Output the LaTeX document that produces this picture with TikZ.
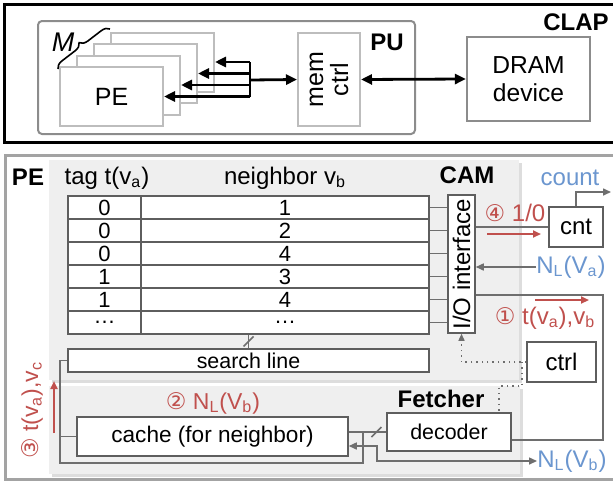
\documentclass[tikz,border=0pt]{standalone}
\usepackage{fontspec}
\setmainfont{Liberation Sans}
\newfontfamily\circfont{DejaVu Sans}
\usepackage{tikz}
\usetikzlibrary{arrows.meta,positioning,calc,decorations.pathreplacing}
\definecolor{clapred}{HTML}{C0504D}
\definecolor{clapblue}{HTML}{6B96CF}
\definecolor{wiregray}{HTML}{6E6E6E}
\definecolor{boxgray}{HTML}{BDBDBD}
\definecolor{pugray}{HTML}{8C8C8C}
\definecolor{panelgray}{HTML}{A3A3A3}
\definecolor{camfill}{HTML}{EFEFEF}
\definecolor{camshade}{HTML}{DDDDDD}
\definecolor{cellgray}{HTML}{5E5E5E}
\newcommand{\circnum}[1]{{\circfont\fontsize{11.5}{12}\selectfont #1}}
\newcommand{\lowsub}[1]{\textsubscript{#1}}

\begin{document}
\begin{tikzpicture}[
  x=0.5pt,y=-0.5pt,
  every node/.style={font=\fontsize{12}{13}\selectfont,inner sep=0pt},
  lbl/.style={font=\bfseries\fontsize{12}{13}\selectfont},
  bnode/.style={draw=cellgray,line width=0.75pt,fill=white},
  pebox/.style={draw=boxgray,line width=1pt,fill=white,
                minimum width=51.5pt,minimum height=29.5pt},
  cell/.style={draw=cellgray,line width=0.6pt,fill=white,
               minimum height=11.5pt,font=\fontsize{11}{12}\selectfont},
  wire/.style={draw=wiregray,line width=0.75pt},
  garr/.style={wire,-{Triangle[length=4pt,width=3.5pt]}},
  dotarr/.style={draw=wiregray,line width=0.7pt,dotted,
                 -{Triangle[length=3.5pt,width=3pt]}},
  redarr/.style={draw=clapred,line width=1.1pt,
                 -{Triangle[length=4pt,width=3.5pt]}},
  blkarr/.style={line width=1.4pt,-{Triangle[length=5.5pt,width=5pt]}},
  dblarr/.style={line width=1.4pt,
                 {Triangle[length=5.5pt,width=5pt]}-{Triangle[length=5.5pt,width=5pt]}},
]
\useasboundingbox (0,0) rectangle (613,482);

% CLAP / PU
\node[draw=black,line width=1.5pt,minimum width=305pt,minimum height=69pt] (clap) at (309,73) {};
\node[lbl] (claptxt) at (576,22) {CLAP};
\node[draw=pugray,line width=1pt,rounded corners=2pt,
      minimum width=188.5pt,minimum height=56.5pt] (pu) at (226.5,77.5) {};
\node[lbl] (putxt) at (387,42) {PU};

\foreach \i/\dx in {4/3,3/2,2/1}
  \node[pebox] (pe\i) at (111.5+17*\dx,96.5-11.5*\dx) {};
\node[pebox,font=\fontsize{12.5}{13}\selectfont] (pe1) at (111.5,96.5) {PE};
\node[font=\itshape\fontsize{13.5}{14}\selectfont] (mlbl) at (63,42) {M};
\draw[decorate,decoration={brace,amplitude=4pt},line width=0.8pt] (58,69) -- (110,29);

\coordinate (bus) at (250,80);
\foreach \i in {1,...,4}
  \draw[blkarr] (bus |- pe\i.east) -- (pe\i.east);
\draw[line width=1.4pt] (bus |- pe4.east) -- (bus |- pe1.east);

\node[draw=boxgray,line width=1pt,fill=white,minimum width=31pt,minimum height=46.5pt] (memctrl) at (329,79.5) {};
\node[rotate=90,align=center,font=\fontsize{12.5}{12.5}\selectfont] (memtxt) at (memctrl) {mem\\ctrl};
\node[draw=pugray,line width=1.2pt,minimum width=61.5pt,minimum height=42pt,
      align=center,font=\fontsize{12.3}{14}\selectfont] (dram) at (528.5,79) {DRAM\\device};
\draw[blkarr] (bus) -- (memctrl.west);
\draw[dblarr] (memctrl.east) -- (dram.west);

% PE
\node[draw=panelgray,line width=1.5pt,minimum width=305pt,minimum height=162pt] (pepanel) at (310,317) {};
\node[lbl] (petxt) at (28,177) {PE};
\fill[camshade] (52,163) rectangle (522,383);
\fill[camfill] (49,160) rectangle (519,380);
\fill[camshade] (52,389) rectangle (523,477);
\fill[camfill] (49,386) rectangle (520,474);

\node[lbl] (camtxt) at (467,175) {CAM};
\node (tagtxt) at (107,178) {tag t(v\lowsub{a})};
\node (nbrtxt) at (285,178) {neighbor v\lowsub{b}};

\node[bnode,minimum width=13.5pt,minimum height=69pt] (io) at (461.5,264) {};
\node[rotate=90] (iotxt) at (io) {I/O interface};

\foreach \r/\tg/\nb in {1/0/1,2/0/2,3/0/4,4/1/3,5/1/4,6/…/…} {
  \node[cell,minimum width=36.5pt] (t\r) at (104.5,184.5+23*\r) {\tg};
  \node[cell,minimum width=144pt] (n\r) at (285,184.5+23*\r) {\nb};
  \draw[wire] (n\r.east) -- (n\r.east -| io.west);
}

\node[bnode,minimum width=27pt,minimum height=20pt] (cnt) at (576,227) {cnt};
\node[text=clapblue] (count) at (570,178) {count};
\coordinate (countend) at (611,192);
\draw[garr] (cnt.north) |- (countend);
\draw[wire] (io.east |- cnt.west) -- (cnt.west);
\coordinate (r4s) at (487,234);
\coordinate (r4e) at (541,234);
\draw[redarr] (r4s) -- (r4e);
\node[text=clapred] (step4) at (515,213) {\circnum{④} 1/0};

\node[text=clapblue,anchor=west] (nla) at (536,267) {N\lowsub{L}(V\lowsub{a})};
\draw[garr] (nla.west) -- (nla.west -| io.east);

\coordinate (rt1) at (603,295);
\coordinate (rt2) at (603,440);
\coordinate (r1s) at (535,300);
\coordinate (r1e) at (589,300);
\draw[redarr] (r1s) -- (r1e);
\node[text=clapred] (step1) at (545,318) {\circnum{①} t(v\lowsub{a}),v\lowsub{b}};

\node[bnode,minimum width=34.5pt,minimum height=20pt] (ctrl) at (561.5,362) {ctrl};
\draw[dotarr] (ctrl.west) -| (io.south);
\coordinate (dj) at (522,362);
\coordinate (dk) at (522,386);
\coordinate (dd) at (499,432);
\draw[dotarr] (dj) -- (dk) -| (dd);

\node[bnode,minimum width=180.5pt,minimum height=11.5pt,
      font=\fontsize{10.7}{11}\selectfont] (sl) at (248.5,360.5) {search line};
\draw[wire] (sl.north) -- coordinate[pos=.5] (slm) (sl.north |- n6.south);
\draw[wire] (slm) ++(-5,5) -- ++(10,-10);

% Fetcher
\node[lbl] (fetchtxt) at (441,399) {Fetcher};
\node[bnode,minimum width=135.5pt,minimum height=19.5pt,
      font=\fontsize{11.3}{12}\selectfont] (cache) at (212.5,436.5) {cache (for neighbor)};
\node[bnode,minimum width=62pt,minimum height=19pt,
      font=\fontsize{10.7}{11}\selectfont] (decoder) at (449,432) {decoder};
\draw[wire] (rt2 -| decoder.east) -- (rt2) -- (rt1) -- (io.east |- rt1);
\draw[wire] (decoder.west) -- coordinate[pos=.26] (dcm) (decoder.west -| cache.east);
\draw[wire] (dcm) ++(-5,5) -- ++(10,-10);

\coordinate (bj) at (363,432);
\coordinate (bl) at (60,463);
\draw[wire] (bj) |- (bl) |- (sl.west);
\draw[wire] (bl |- cache.west) -- (cache.west);

\coordinate (cj) at (377,446);
\node[text=clapblue,anchor=west] (nlb) at (537,461) {N\lowsub{L}(V\lowsub{b})};
\draw[wire,{Triangle[length=4pt,width=3.5pt]}-{Triangle[length=4pt,width=3.5pt]}]
  (cj -| cache.east) -- (cj) |- (nlb.west);

\coordinate (r3s) at (54,433);
\coordinate (r3e) at (54,381);
\draw[redarr] (r3s) -- (r3e);
\node[text=clapred,rotate=90,font=\fontsize{11.5}{12}\selectfont] (step3) at (32,410) {\circnum{③} t(v\lowsub{a}),v\lowsub{c}};
\node[text=clapred,font=\fontsize{11.5}{12}\selectfont] (step2) at (213,403) {\circnum{②} N\lowsub{L}(V\lowsub{b})};
\end{tikzpicture}
\end{document}
